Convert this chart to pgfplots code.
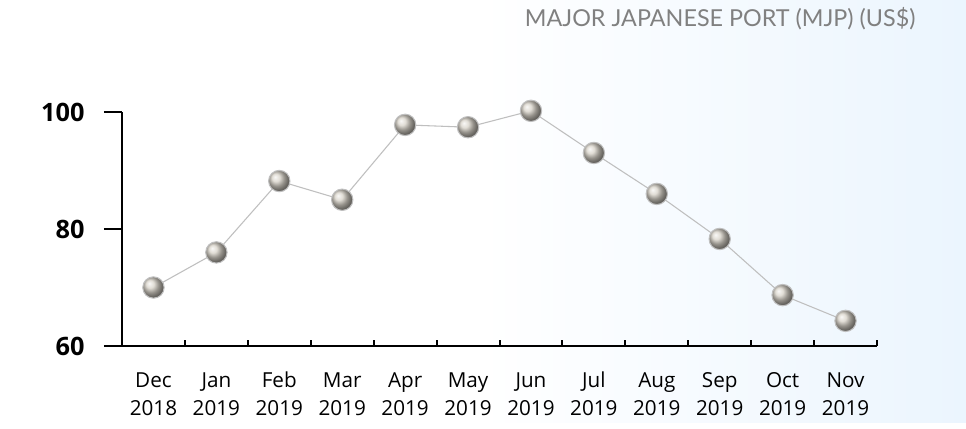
\documentclass[border=0pt]{standalone}
\usepackage{pgfplots}
\pgfplotsset{compat=1.18}
\usepackage{fontspec}
\setmainfont{Open Sans}
\newfontfamily\titlefont{Lato}
\definecolor{bgblue}{RGB}{235,245,254}
\definecolor{silver}{RGB}{215,210,200}
\begin{document}
\begin{tikzpicture}[x=0.75pt,y=0.75pt]
\fill[white] (0,0) rectangle (966,422);
\shade[left color=white, right color=bgblue] (480,0) rectangle (966,422);
\node[anchor=base east, text=black!50, font=\titlefont\fontsize{17.5}{20}\selectfont] at (920,396) {MAJOR JAPANESE PORT (MJP) (US\$)};
\begin{axis}[
  at={(91.5pt,57pt)}, anchor=south west,
  scale only axis, width=566.25pt, height=175.5pt,
  xmin=-0.5, xmax=11.5, ymin=60, ymax=100,
  axis x line*=bottom, axis y line*=left,
  axis line style={line width=1.5pt, black},
  xtick={0.5,1.5,...,11.5}, xticklabels={},
  tick align=inside, major tick length=4.5pt,
  tick style={line width=1.5pt, black},
  extra x ticks={0,...,11},
  extra x tick labels={\strut Dec\\\strut 2018,\strut Jan\\\strut 2019,\strut Feb\\\strut 2019,\strut Mar\\\strut 2019,\strut Apr\\\strut 2019,\strut May\\\strut 2019,\strut Jun\\\strut 2019,\strut Jul\\\strut 2019,\strut Aug\\\strut 2019,\strut Sep\\\strut 2019,\strut Oct\\\strut 2019,\strut Nov\\\strut 2019},
  extra x tick style={major tick length=0pt, tick label style={align=center, anchor=north, font=\fontsize{15.5}{21}\selectfont, yshift=-13pt}},
  ytick=\empty,
  extra y ticks={60,80,100},
  extra y tick style={major tick length=13.5pt, tick align=outside, tick label style={font=\bfseries\fontsize{19}{22}\selectfont, xshift=-11pt}},
  /pgf/number format/assume math mode=true,
  clip=false,
]
\addplot[color=black!25, line width=0.8pt, mark=ball, mark size=8pt, mark options={ball color=silver}]
coordinates {(0,70) (1,76) (2,88.2) (3,85) (4,97.8) (5,97.4) (6,100.2) (7,93) (8,86) (9,78.3) (10,68.7) (11,64.3)};
\end{axis}
\end{tikzpicture}
\end{document}
